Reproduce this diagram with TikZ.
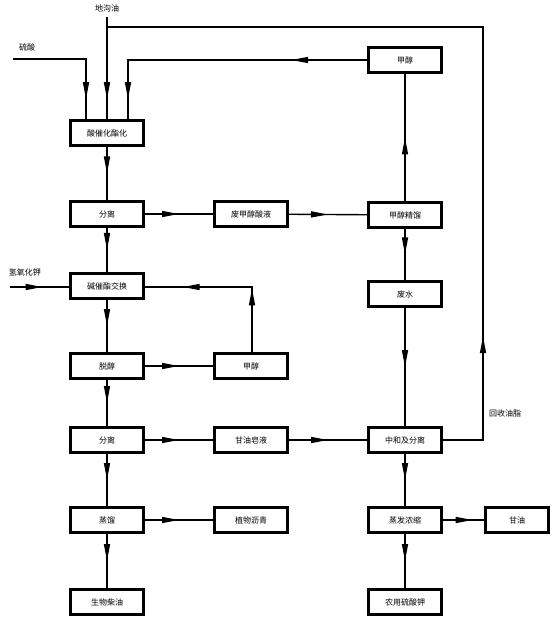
\documentclass[tikz,border=0pt]{standalone}
\usepackage{fontspec}
\newfontfamily\cjk{Noto Sans CJK SC}
\usetikzlibrary{arrows.meta,decorations.markings}
\newcommand{\tri}{\arrow{Triangle[length=17pt,width=6pt]}}
\tikzset{
 box/.style={draw, line width=2.6pt, fill=white, minimum width=73pt, minimum height=25pt, inner sep=0pt, font=\cjk\fontsize{8}{9}\selectfont},
 lbl/.style={font=\cjk\fontsize{8}{9}\selectfont, inner sep=1pt},
 ln/.style={line width=1.4pt},
 marks/.style={ln, postaction={decorate}, decoration={markings,#1}},
 flow/.style={marks={mark=at position #1 with {\tri}}},
 flow/.default=0.5
}
\begin{document}
\begin{tikzpicture}[x=1pt,y=-1pt]
\useasboundingbox (0,0) rectangle (551,617);
% left column
\node[box] (a1) at (107,133) {酸催化酯化};
\node[box] (a2) at (107,214) {分离};
\node[box] (a3) at (107,286) {碱催酯交换};
\node[box] (a4) at (107,366) {脱醇};
\node[box] (a5) at (107,440) {分离};
\node[box] (a6) at (107,520) {蒸馏};
\node[box] (a7) at (107,602) {生物柴油};
% middle column
\node[box] (b1) at (251,214) {废甲醇酸液};
\node[box] (b2) at (251,366) {甲醇};
\node[box] (b3) at (251,440) {甘油皂液};
\node[box] (b4) at (251,520) {植物沥青};
% right column
\node[box] (c0) at (405,60) {甲醇};
\node[box] (c1) at (405,215) {甲醇精馏};
\node[box] (c2) at (405,294) {废水};
\node[box] (c3) at (405,440) {中和及分离};
\node[box] (c4) at (405,520) {蒸发浓缩};
\node[box] (c5) at (405,602) {农用硫酸钾};
\node[box, minimum width=63pt] (d4) at (517,520) {甘油};
% labels
\node[lbl] (Ldgy) at (107,8) {地沟油};
\node[lbl] (Lls) at (27,47) {硫酸};
\node[lbl] (Lkoh) at (25,272) {氢氧化钾};
\node[lbl] (Lhs) at (505,413) {回收油脂};
% coordinates
\coordinate (dgyTop) at (107,17);
\coordinate (lsStart) at (13,59);
\coordinate (lsC) at (86,59);
\coordinate (meC) at (128,60);
\coordinate (kohStart) at (10,287);
\coordinate (rc1) at (483,440);
\coordinate (rc2) at (483,27);
\coordinate (jn) at (107,27);
\coordinate (mc1) at (252,287);
% top inputs
\draw[flow=-20pt] (dgyTop) -- (a1.north);
\draw[flow=-20pt] (lsStart) -- (lsC) -- (lsC |- a1.north);
\draw[marks={mark=at position 76pt with {\tri}, mark=at position -20pt with {\tri}}] (c0.west) -- (meC) -- (meC |- a1.north);
\draw[marks={mark=at position 144pt with {\tri}}] (c3.east) -- (rc1) -- (rc2) -- (jn);
% left column flow
\draw[flow] (a1) -- (a2);
\draw[flow] (a2) -- (a3);
\draw[flow] (a3) -- (a4);
\draw[flow] (a4) -- (a5);
\draw[flow] (a5) -- (a6);
\draw[flow] (a6) -- (a7);
\draw[flow=0.55] (kohStart) -- (a3.west |- kohStart);
% horizontal to middle
\draw[flow] (a2) -- (b1);
\draw[flow] (a4) -- (b2);
\draw[flow] (a5) -- (b3);
\draw[flow] (a6) -- (b4);
% methanol return to 碱催
\draw[marks={mark=at position 0.37 with {\tri}, mark=at position 0.78 with {\tri}}] (b2.north -| mc1) -- (mc1) -- (a3.east |- mc1);
% middle to right
\draw[flow] (b1) -- (c1);
\draw[flow] (b3) -- (c3);
% right column
\draw[flow] (c1) -- (c0);
\draw[flow] (c1) -- (c2);
\draw[flow] (c2) -- (c3);
\draw[flow] (c3) -- (c4);
\draw[flow] (c4) -- (c5);
\draw[flow=0.72] (c4) -- (d4);
\end{tikzpicture}
\end{document}
